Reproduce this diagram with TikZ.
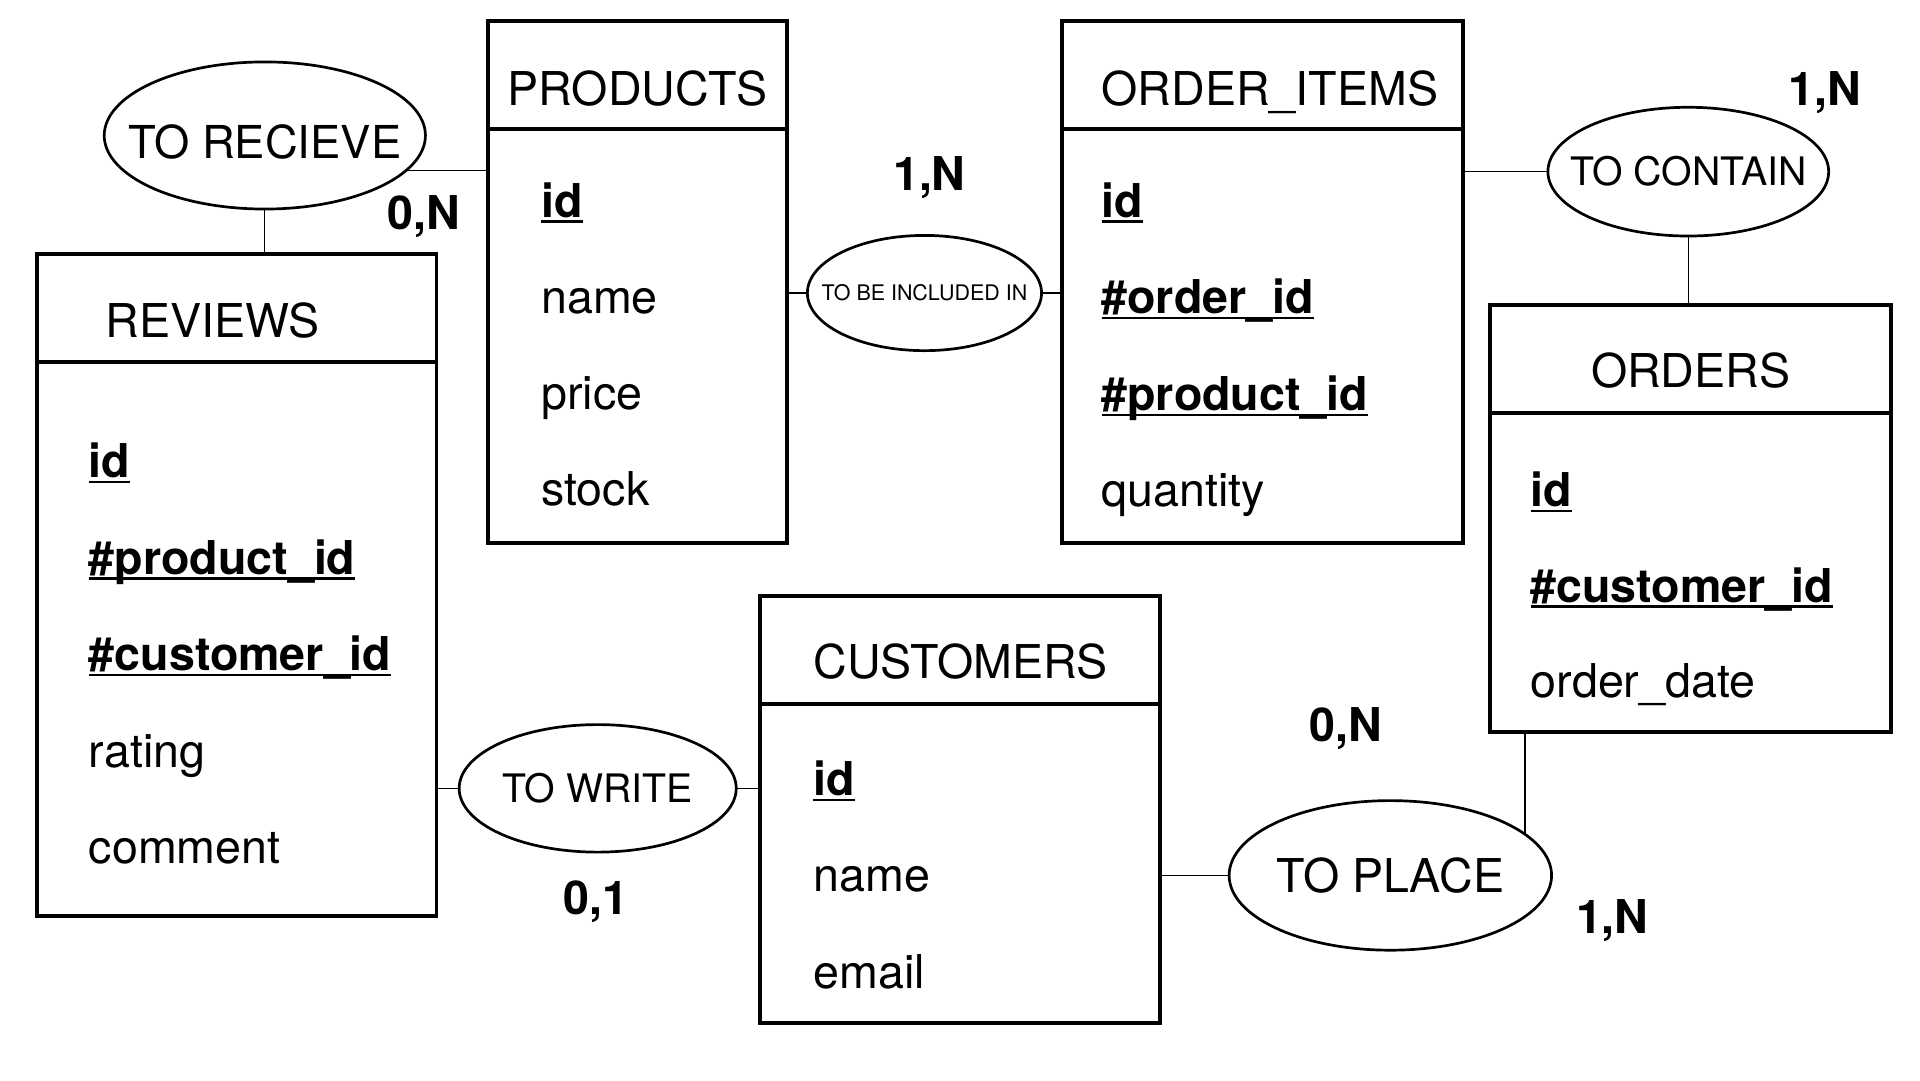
\documentclass[tikz,border=0pt]{standalone}
\usepackage{fontspec}
\setmainfont{TeX Gyre Heros}
\usetikzlibrary{shapes.geometric}
\tikzset{every picture/.style={line width=0.9pt}}
\newcommand{\keyattr}[1]{\setbox0=\hbox{\bfseries #1}\rlap{\vrule width\wd0 height -0.07em depth 0.12em}\box0}
\newcommand{\reltext}[1]{\makebox[0pt]{#1}}

\begin{document}
\begin{tikzpicture}[x=1pt,y=1pt,yscale=-1,xscale=1,
  tablebox/.style={draw, line width=3.2pt, outer sep=0pt, inner sep=0pt, anchor=north west},
  relation/.style={draw, ellipse, line width=2.2pt, inner sep=0pt, outer sep=0pt},
  field/.style={anchor=base west, inner sep=0pt, font=\fontsize{38}{44}\selectfont},
  card/.style={anchor=base west, inner sep=0pt, font=\fontsize{38}{44}\selectfont\bfseries},
  link/.style={line width=0.9pt}]
\useasboundingbox (0,0) rectangle (1566,881);

%Shape: Rectangle
\node [tablebox, minimum width=244pt, minimum height=88pt] (prodhead) at (398,17) {};
\node [tablebox, minimum width=244pt, minimum height=338pt] (prodbody) at (prodhead.south west) {};
%Shape: Rectangle
\node [tablebox, minimum width=326pt, minimum height=88pt] (revhead) at (30,207) {};
\node [tablebox, minimum width=326pt, minimum height=452pt] (revbody) at (revhead.south west) {};
%Shape: Rectangle
\node [tablebox, minimum width=327pt, minimum height=88pt] (itemhead) at (866,17) {};
\node [tablebox, minimum width=327pt, minimum height=338pt] (itembody) at (itemhead.south west) {};
%Shape: Rectangle
\node [tablebox, minimum width=327pt, minimum height=88pt] (ordhead) at (1215,249) {};
\node [tablebox, minimum width=327pt, minimum height=260pt] (ordbody) at (ordhead.south west) {};
%Shape: Rectangle
\node [tablebox, minimum width=326pt, minimum height=88pt] (custhead) at (620,486) {};
\node [tablebox, minimum width=326pt, minimum height=260pt] (custbody) at (custhead.south west) {};

\node [field, anchor=base] (prodtitle) at (520,86) {PRODUCTS};
\node [field] (revtitle) at (86,275) {REVIEWS};
\node [field] (itemtitle) at (898,86) {ORDER\_ITEMS};
\node [field, anchor=base] (ordtitle) at (1379,316) {ORDERS};
\node [field] (custtitle) at (663,553) {CUSTOMERS};

\foreach \txt [count=\i from 0] in {\keyattr{id}, name, price, stock}
  \node [field] (prodf\i) at (441,177+78.5*\i) {\txt};
\foreach \txt [count=\i from 0] in {\keyattr{id}, \keyattr{\#product\_id}, \keyattr{\#customer\_id}, rating, comment}
  \node [field] (revf\i) at (72,389.5+78.7*\i) {\txt};
\foreach \txt [count=\i from 0] in {\keyattr{id}, \keyattr{\#order\_id}, \keyattr{\#product\_id}, quantity}
  \node [field] (itemf\i) at (898,177+78.8*\i) {\txt};
\foreach \txt [count=\i from 0] in {\keyattr{id}, \keyattr{\#customer\_id}, order\_date}
  \node [field] (ordf\i) at (1248,413+78*\i) {\txt};
\foreach \txt [count=\i from 0] in {\keyattr{id}, name, email}
  \node [field] (custf\i) at (663,649+78.5*\i) {\txt};

%Shape: Ellipse
\node [relation, minimum width=262pt, minimum height=120pt, text height=38pt, text depth=0pt, font=\fontsize{37}{44}\selectfont] (receive) at (216,110.5) {\reltext{TO RECIEVE}};
\node [relation, minimum width=191pt, minimum height=94pt, font=\fontsize{17.5}{20}\selectfont] (include) at (754,239) {\reltext{TO BE INCLUDED IN}};
\node [relation, minimum width=229pt, minimum height=105pt, font=\fontsize{32}{38}\selectfont] (contain) at (1377,140) {\reltext{TO CONTAIN}};
\node [relation, minimum width=226pt, minimum height=104pt, font=\fontsize{32}{38}\selectfont] (write) at (487.5,643) {\reltext{TO WRITE}};
\node [relation, minimum width=263pt, minimum height=122pt, font=\fontsize{38}{44}\selectfont] (place) at (1134,714) {\reltext{TO PLACE}};

\draw [link] (receive.346) -- (receive.346 -| prodbody.west);
\draw [link] (receive.south) -- (receive.south |- revhead.north);
\draw [link] (prodbody.east |- include.west) -- (include.west);
\draw [link] (include.east) -- (include.east -| itembody.west);
\draw [link] (itembody.east |- contain.west) -- (contain.west);
\draw [link] (contain.south) -- (contain.south |- ordhead.north);
\draw [link] (revbody.east |- write.west) -- (write.west);
\draw [link] (write.east) -- (write.east -| custbody.west);
\draw [link] (custbody.east |- place.west) -- (place.west);
\draw [link] (place.17) -- (place.17 |- ordbody.south);

\node [card] (cardrecv) at (316,187) {0,N};
\node [card] (cardincl) at (728,155) {1,N};
\node [card] (cardcont) at (1458,86) {1,N};
\node [card] (cardcust) at (1068,605) {0,N};
\node [card] (cardord) at (1285,761) {1,N};
\node [card] (cardwrite) at (459,745.6) {0,1};
\end{tikzpicture}
\end{document}
